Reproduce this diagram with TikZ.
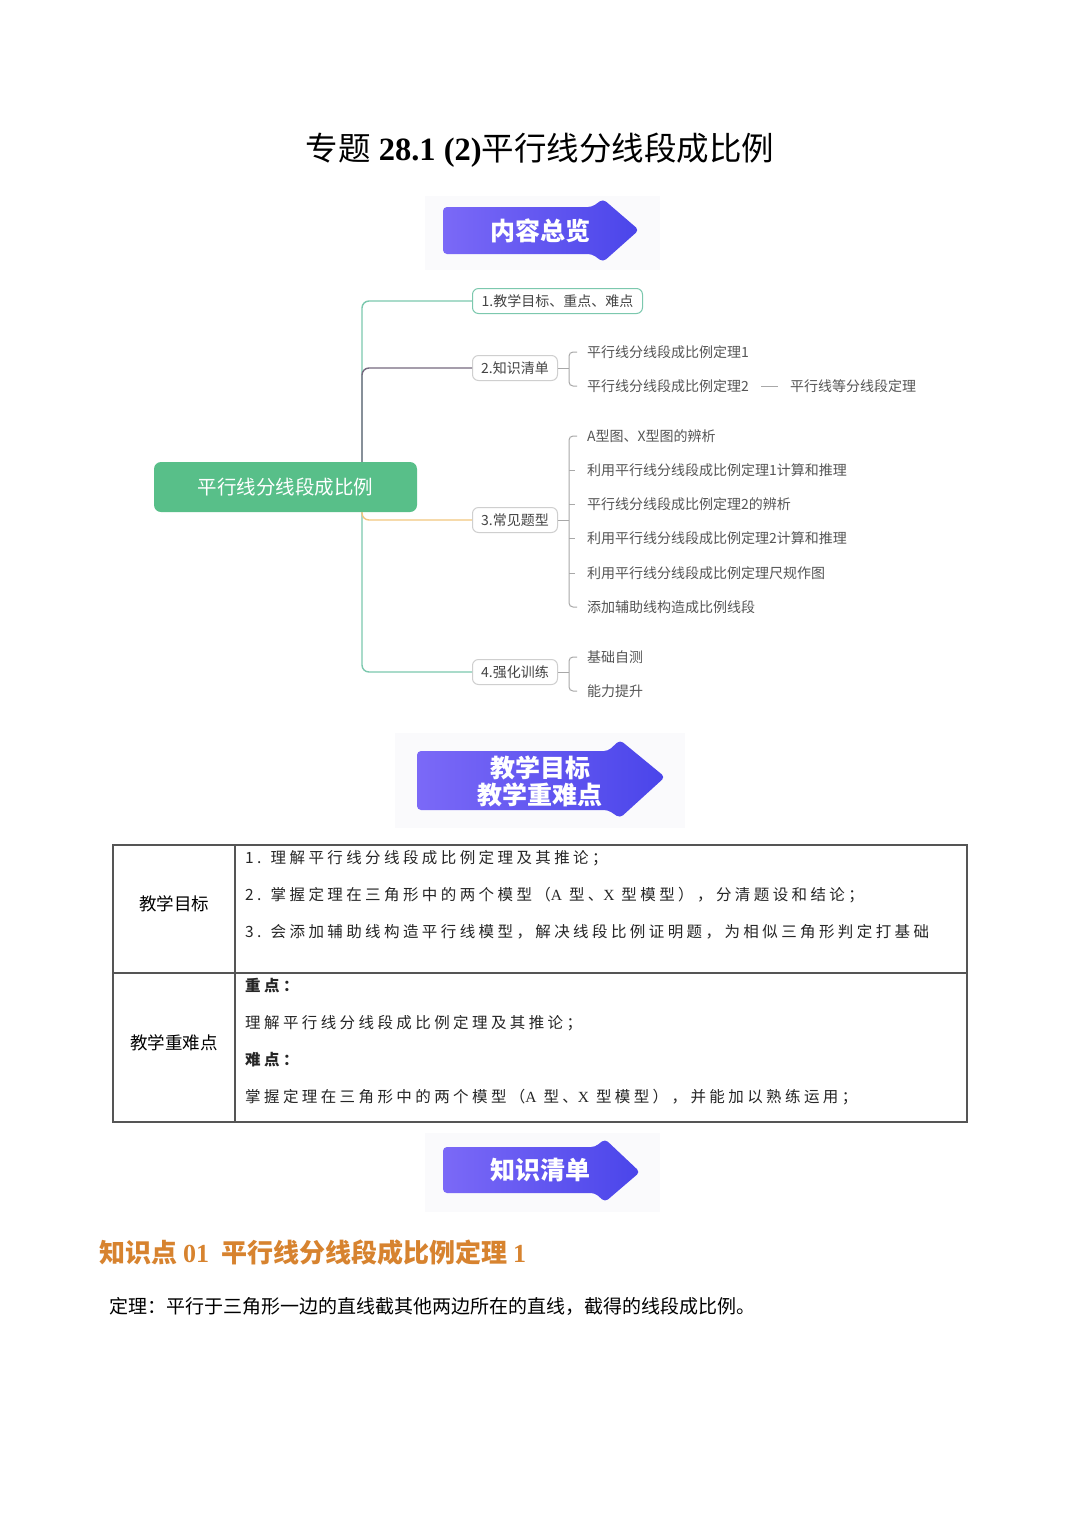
\documentclass[tikz,border=0pt]{standalone}
\usepackage{fontspec}
\setmainfont{Liberation Serif}
\newfontfamily\cjk{Noto Sans CJK SC}
\newfontfamily\cjksp{Noto Sans CJK SC}[LetterSpace=22]
\definecolor{bnL}{HTML}{7B69F7}
\definecolor{bnR}{HTML}{4A45EA}
\definecolor{bannerbg}{HTML}{FAFAFC}
\definecolor{rootg}{HTML}{58BF89}
\definecolor{tealc}{HTML}{7CC8AE}
\definecolor{purpc}{HTML}{75697F}
\definecolor{orangec}{HTML}{F2C77E}
\definecolor{nodeb}{HTML}{CFCFCF}
\definecolor{braceg}{HTML}{A8A8A8}
\definecolor{txtd}{HTML}{444444}
\definecolor{txtl}{HTML}{555555}
\definecolor{tblline}{HTML}{555555}
\definecolor{headc}{HTML}{D7832F}
\tikzset{
  banner/.style={rounded corners=4pt, left color=bnL, right color=bnR},
  bannertext/.style={text=white, align=center, font=\cjk\bfseries\fontsize{25}{28}\selectfont},
  rootnode/.style={rectangle, rounded corners=7pt, fill=rootg, minimum width=263pt, minimum height=50pt, text=white, font=\cjk\fontsize{19.5}{22}\selectfont},
  branch/.style={rectangle, rounded corners=6pt, draw=nodeb, line width=1pt, fill=white, minimum height=25pt, inner xsep=6pt, inner ysep=0pt, anchor=west, text=txtd, font=\cjk\fontsize{14}{16}\selectfont},
  leaf/.style={anchor=west, inner sep=0pt, text=txtl, font=\cjk\fontsize{14}{16}\selectfont},
  link/.style={line width=1.4pt, rounded corners=7pt},
  bracket/.style={draw=braceg, line width=1pt, rounded corners=4pt},
  cell/.style={anchor=west, inner sep=0pt, text=black!85, font=\cjksp\fontsize{15.5}{18}\selectfont},
  label/.style={inner sep=0pt, text=black, font=\cjk\fontsize{17.5}{20}\selectfont},
}
\begin{document}
\begin{tikzpicture}[x=1pt,y=-1pt]
\useasboundingbox (0,0) rectangle (1080,1527);
\fill[white] (0,0) rectangle (1080,1527);

% title
\node[inner sep=0pt, font=\fontsize{32.5}{36}\selectfont] (title) at (540,150)
  {{\cjk 专题} \textbf{28.1 (2)}{\cjk 平行线分线段成比例}};

% banner 1
\fill[bannerbg] (425,196) rectangle (660,270);
\shade[banner] (443,207) -- (592,207) -- (603,199) -- (639,230) -- (603,262) -- (592,254) -- (443,254) -- cycle;
\node[bannertext] (bn1) at (540,231) {内容总览};

% mind map nodes
\node[rootnode] (root) at (285.5,487) {平行线分线段成比例};
\node[branch, draw=tealc, minimum width=170pt] (b1) at (472,301) {1.教学目标、重点、难点};
\node[branch, minimum width=85pt] (b2) at (472,368) {2.知识清单};
\node[branch, minimum width=85pt] (b3) at (472,520) {3.常见题型};
\node[branch, minimum width=85pt] (b4) at (472,672) {4.强化训练};

\node[leaf] (l21) at (587,352) {平行线分线段成比例定理1};
\node[leaf] (l22) at (587,386) {平行线分线段成比例定理2};
\node[leaf] (l23) at (790,386) {平行线等分线段定理};

\node[leaf] (l31) at (587,436) {A型图、X型图的辨析};
\node[leaf] (l32) at (587,470) {利用平行线分线段成比例定理1计算和推理};
\node[leaf] (l33) at (587,504) {平行线分线段成比例定理2的辨析};
\node[leaf] (l34) at (587,538) {利用平行线分线段成比例定理2计算和推理};
\node[leaf] (l35) at (587,573) {利用平行线分线段成比例定理尺规作图};
\node[leaf] (l36) at (587,607) {添加辅助线构造成比例线段};

\node[leaf] (l41) at (587,657) {基础自测};
\node[leaf] (l42) at (587,691) {能力提升};

% trunk connectors
\coordinate (tk) at (362,487);
\draw[link, tealc] (root.north -| tk) -- (tk |- b1.west) -- (b1.west);
\draw[link, purpc] (root.north -| tk) -- (tk |- b2.west) -- (b2.west);
\draw[link, tealc] (root.south -| tk) -- (tk |- b4.west) -- (b4.west);
\draw[link, orangec] (root.south -| tk) -- (tk |- b3.west) -- (b3.west);

% brackets
\coordinate (bx) at (569,0);
\draw[bracket] (b2.east) -- (bx |- b2.east);
\draw[bracket] ([xshift=-10pt]l21.west) -| (bx |- l22.west) -- ([xshift=-10pt]l22.west);
\draw[bracket] ([xshift=12pt]l22.east) -- ([xshift=-12pt]l23.west);

\draw[bracket] (b3.east) -- (bx |- b3.east);
\draw[bracket] ([xshift=-10pt]l31.west) -| (bx |- l36.west) -- ([xshift=-10pt]l36.west);
\draw[bracket] (bx |- l32.west) -- ([xshift=-12pt]l32.west);
\draw[bracket] (bx |- l33.west) -- ([xshift=-12pt]l33.west);
\draw[bracket] (bx |- l34.west) -- ([xshift=-12pt]l34.west);
\draw[bracket] (bx |- l35.west) -- ([xshift=-12pt]l35.west);

\draw[bracket] (b4.east) -- (bx |- b4.east);
\draw[bracket] ([xshift=-10pt]l41.west) -| (bx |- l42.west) -- ([xshift=-10pt]l42.west);

% banner 2
\fill[bannerbg] (395,733) rectangle (685,828);
\shade[banner] (417,751) -- (608,751) -- (620,740) -- (665,777) -- (620,818) -- (608,810) -- (417,810) -- cycle;
\node[bannertext] (bn2a) at (540,768) {教学目标};
\node[bannertext] (bn2b) at (540,795) {教学重难点};

% table
\draw[tblline, line width=1.2pt] (113,845) rectangle (967,1122);
\draw[tblline, line width=1.2pt] (113,973) -- (967,973);
\draw[tblline, line width=1.2pt] (235,845) -- (235,1122);
\node[label] (t1) at (174,904) {教学目标};
\node[label] (t2) at (174,1043) {教学重难点};
\node[cell] (c1) at (245,858) {1. 理解平行线分线段成比例定理及其推论；};
\node[cell] (c2) at (245,895) {2. 掌握定理在三角形中的两个模型（{\rmfamily A} 型、{\rmfamily X} 型模型），分清题设和结论；};
\node[cell] (c3) at (245,932) {3. 会添加辅助线构造平行线模型，解决线段比例证明题，为相似三角形判定打基础};
\node[cell, font=\cjksp\bfseries\fontsize{15.5}{18}\selectfont] (c4) at (245,986) {重点：};
\node[cell] (c5) at (245,1023) {理解平行线分线段成比例定理及其推论；};
\node[cell, font=\cjksp\bfseries\fontsize{15.5}{18}\selectfont] (c6) at (245,1060) {难点：};
\node[cell] (c7) at (245,1097) {掌握定理在三角形中的两个模型（{\rmfamily A} 型、{\rmfamily X} 型模型），并能加以熟练运用；};

% banner 3
\fill[bannerbg] (425,1133) rectangle (660,1212);
\shade[banner] (443,1147) -- (595,1147) -- (605,1139) -- (640,1172) -- (605,1202) -- (595,1193) -- (443,1193) -- cycle;
\node[bannertext] (bn3) at (540,1170) {知识清单};

% heading and body
\node[anchor=west, inner sep=0pt, text=headc, font=\cjk\bfseries\fontsize{26}{29}\selectfont] (h1) at (99,1253)
  {知识点 {\rmfamily\bfseries 01}\ \ 平行线分线段成比例定理 {\rmfamily\bfseries 1}};
\node[anchor=west, inner sep=0pt, text=black, font=\cjk\fontsize{19}{22}\selectfont] (body) at (109,1306)
  {定理：平行于三角形一边的直线截其他两边所在的直线，截得的线段成比例。};
\end{tikzpicture}
\end{document}
